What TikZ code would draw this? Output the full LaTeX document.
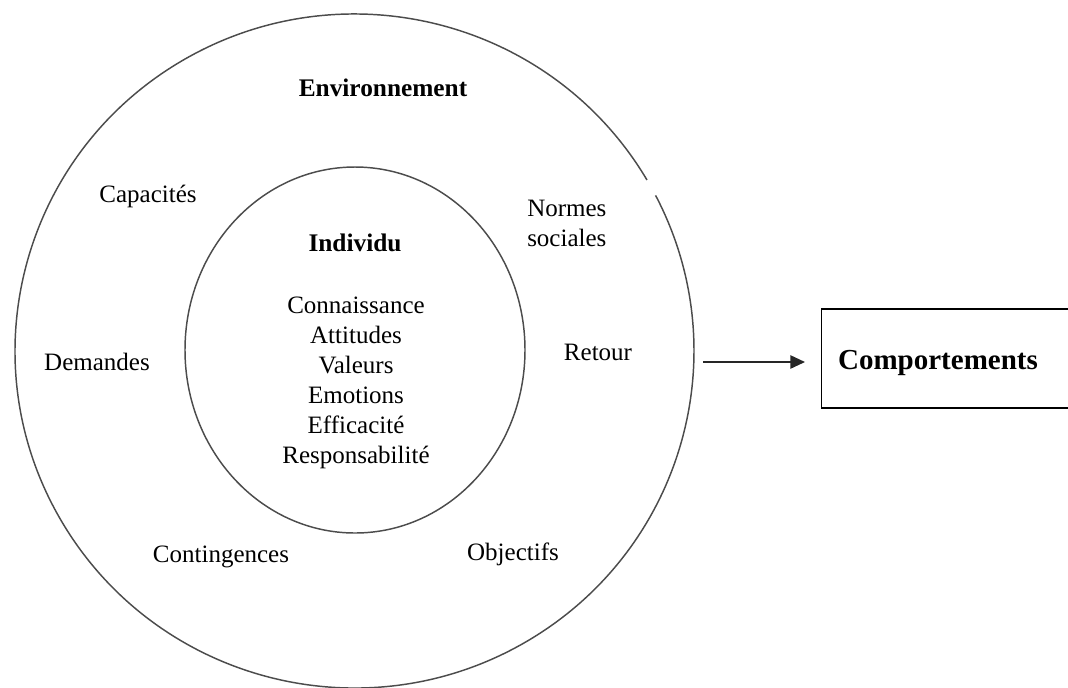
\documentclass[tikz,border=0pt]{standalone}
\usepackage{fontspec}
\setmainfont{Liberation Serif}
\usetikzlibrary{arrows.meta,calc,positioning}

\begin{document}
\begin{tikzpicture}[x=0.75pt, y=-0.75pt,
    lab/.style={font=\fontsize{18.75}{22.5}\selectfont, inner sep=0pt},
    titre/.style={font=\fontsize{19}{22.5}\selectfont\bfseries, inner sep=0pt},
    cercle/.style={black!70, line width=1.1pt},
    fleche/.style={line width=1.2pt, black!85, -{Triangle[length=11pt, width=10pt]}}]
    \clip (0,0) rectangle (1068,687);
    \coordinate (centre) at (354.5,351);
    \draw[cercle] ($(centre)+(30.5:254.6pt and 252.75pt)$)
        arc[start angle=30.5, end angle=387.5, x radius=254.6pt, y radius=252.75pt];
    \draw[cercle] (355,350) ellipse [x radius=127.5pt, y radius=137.25pt];
    \node[titre] (env) at (383,88) {Environnement};
    \node[titre] (ind) at (355,243) {Individu};
    \node[lab, align=center, font=\fontsize{18.75}{22.6}\selectfont] (liste) at (356,383)
        {Connaissance\\Attitudes\\Valeurs\\Emotions\\Efficacité\\Responsabilité};
    \foreach \pt/\txt/\nom in {(148,196)/Capacités/cap, (97,362)/Demandes/dem,
        (598,352)/Retour/ret, (221,557)/Contingences/cont, (513,554)/Objectifs/obj}{
    \node[lab] (\nom) at \pt {\txt};
    }
    \node[lab, align=left, anchor=west] (normes) at (527,223) {Normes\\sociales};
    \node[draw, line width=1.1pt, anchor=west, minimum width=195pt, minimum height=74.25pt]
        (boite) at (821,358.5) {};
    \node[font=\fontsize{21.75}{26}\selectfont\bfseries, inner sep=0pt] (comp) at (938,363) {Comportements};
    \coordinate (depart) at (703,362);
    \draw[fleche, shorten >=12pt] (depart) -- (depart -| boite.west);
\end{tikzpicture}
\end{document}
